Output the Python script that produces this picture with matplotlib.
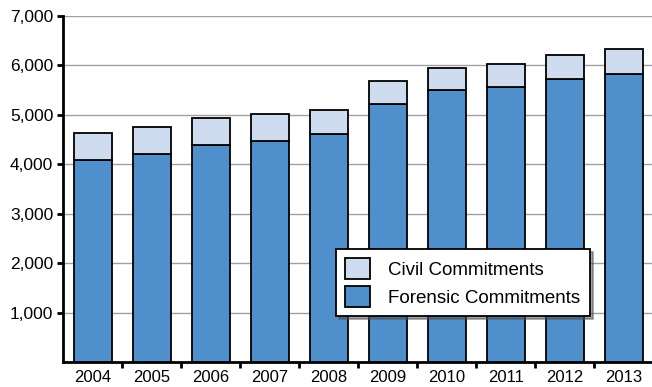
import matplotlib
matplotlib.use("Agg")
import matplotlib.pyplot as plt
import numpy as np
from matplotlib.ticker import FuncFormatter

years = ["2004", "2005", "2006", "2007", "2008", "2009", "2010", "2011", "2012", "2013"]
forensic = [4083, 4211, 4393, 4474, 4622, 5216, 5506, 5567, 5733, 5824]
total = [4642, 4757, 4946, 5020, 5095, 5695, 5945, 6026, 6215, 6330]
civil = [t - f for t, f in zip(total, forensic)]
yticks = [1000, 2000, 3000, 4000, 5000, 6000, 7000]

plt.rcParams['font.family'] = ['Liberation Sans', 'DejaVu Sans']

fig = plt.figure(figsize=(6.52, 3.87), dpi=100)
ax = fig.add_axes([63/652, 1 - 362/387, (652 - 63)/652, (362 - 16)/387])

x = np.arange(len(years))
w = 0.644
ax.bar(x, forensic, width=w, color="#4F8FCB", edgecolor="black", linewidth=1.3,
       label="Forensic Commitments", zorder=3)
ax.bar(x, civil, width=w, bottom=forensic, color="#CFDCF0", edgecolor="black",
       linewidth=1.3, label="Civil Commitments", zorder=3)

ax.set_xlim(-0.508, len(years) - 1 + 0.475)
ax.set_ylim(0, 7000)
ax.set_yticks(yticks)
ax.yaxis.set_major_formatter(FuncFormatter(lambda v, p: f"{int(v):,}"))
ax.grid(axis="y", color="#A0A0A0", linewidth=1.0, zorder=0)

ax.set_xticks(x)
ax.set_xticklabels(years, fontsize=12)
ax.set_xticks(np.arange(len(years) - 1) + 0.5, minor=True)
ax.tick_params(axis="x", which="major", length=0, pad=6)
ax.tick_params(axis="x", which="minor", length=4, width=2, direction="out")
ax.tick_params(axis="y", length=4, width=2, direction="out", labelsize=12.5, pad=3)

for s in ["top", "right"]:
    ax.spines[s].set_visible(False)
ax.spines["left"].set_linewidth(2)
ax.spines["bottom"].set_linewidth(2)

handles, labels = ax.get_legend_handles_labels()
leg = ax.legend(handles[::-1], labels[::-1], loc="lower left",
                bbox_to_anchor=((336 - 63)/589, (362 - 316)/346),
                fontsize=13.5, frameon=True, fancybox=False, shadow=True,
                edgecolor="black", framealpha=1, borderpad=0.5,
                handlelength=1.3, handleheight=1.3, labelspacing=0.4,
                handletextpad=1.0, borderaxespad=0)
leg.get_frame().set_linewidth(1.3)
leg.set_zorder(5)

fig.savefig("out.png", dpi=100)
